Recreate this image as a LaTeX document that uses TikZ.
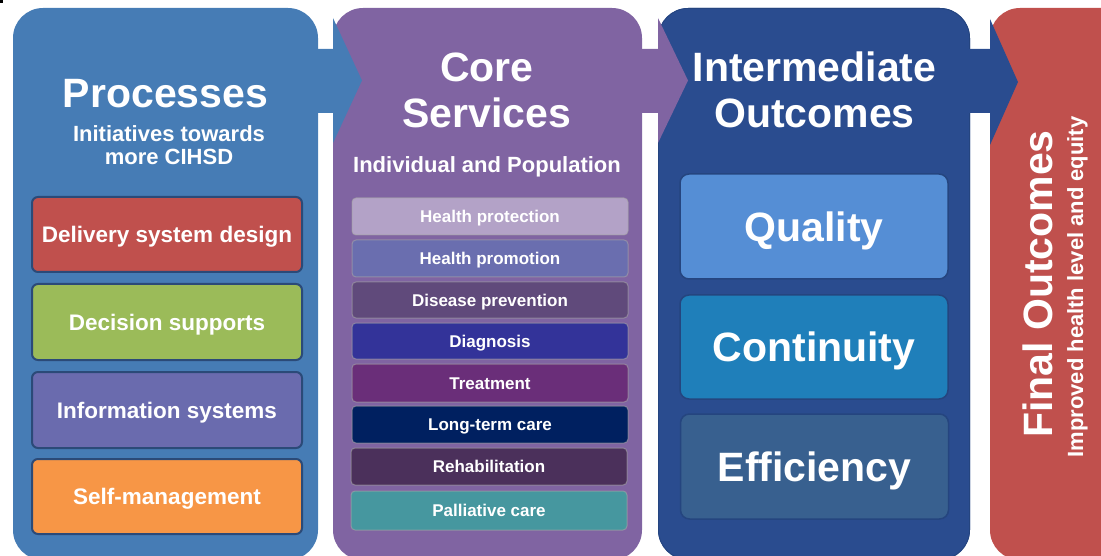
\documentclass[tikz,border=0pt]{standalone}
\usepackage{fontspec}
\setmainfont{Liberation Sans}
\definecolor{colA}{HTML}{467CB5}
\definecolor{colB}{HTML}{8064A2}
\definecolor{colC}{HTML}{2A4C8F}
\definecolor{colD}{HTML}{C0504D}
\definecolor{pbord}{HTML}{2B4A78}
\definecolor{bDel}{HTML}{C0504D}
\definecolor{bDec}{HTML}{9BBB59}
\definecolor{bInf}{HTML}{6A6BAE}
\definecolor{bSel}{HTML}{F79646}
\definecolor{sHP}{HTML}{B3A2C7}
\definecolor{sHPr}{HTML}{6A6EAF}
\definecolor{sDP}{HTML}{604A7B}
\definecolor{sDi}{HTML}{333399}
\definecolor{sTr}{HTML}{6A2E79}
\definecolor{sLT}{HTML}{002060}
\definecolor{sRe}{HTML}{4B305B}
\definecolor{sPa}{HTML}{46979F}
\definecolor{oQ}{HTML}{558ED5}
\definecolor{oC}{HTML}{1F7FBA}
\definecolor{oE}{HTML}{38608F}
\definecolor{oBord}{HTML}{25457F}
\begin{document}
\begin{tikzpicture}[x=1pt,y=-1pt,
  column/.style={rounded corners=30pt},
  title/.style={text=white,font=\fontsize{41}{41}\selectfont\bfseries,anchor=base,inner sep=0pt},
  subtitle/.style={text=white,font=\fontsize{22}{22}\selectfont\bfseries,anchor=base,inner sep=0pt},
  procbox/.style={draw=pbord,line width=2pt,rounded corners=6pt,text=white,
    font=\fontsize{22.5}{22.5}\selectfont\bfseries,minimum width=270pt,
    text height=16.1pt,text depth=0pt,inner sep=0pt},
  servbox/.style={draw=black!35,draw opacity=0.6,line width=1pt,rounded corners=4pt,text=white,
    font=\fontsize{17}{17}\selectfont\bfseries,minimum width=276pt,
    text height=12.2pt,text depth=0pt,inner sep=0pt},
  outbox/.style={draw=oBord,line width=1.5pt,rounded corners=9pt,text=white,
    font=\fontsize{41}{41}\selectfont\bfseries,minimum width=268pt,
    text height=29.4pt,text depth=0pt,inner sep=0pt},
  arrowshape/.style={draw=none}]
\useasboundingbox (0,0) rectangle (1101,556);
\clip (0,0) rectangle (1101,556);
\fill[black] (0,0) rectangle (3,3);
% columns
\fill[colA,column] (13,8) rectangle (318,560);
\fill[colB,column] (333,8) rectangle (642,560);
\fill[colC,column] (658,8) rectangle (970,560);
\draw[oBord,line width=0.8pt,column] (658.4,8.4) rectangle (969.6,559.6);
\fill[colD,column] (990,8) rectangle (1140,560);
% arrows
\fill[colA] (305,49) -- (333,49) -- (333,18) -- (362,80.5) -- (333,143) -- (333,113) -- (305,113) -- cycle;
\fill[colB] (630,49) -- (658,49) -- (658,18) -- (688,80.5) -- (658,143) -- (658,113) -- (630,113) -- cycle;
\fill[colC] (958,49) -- (990,49) -- (990,19) -- (1018,82) -- (990,145) -- (990,113) -- (958,113) -- cycle;
% column 1
\node[title] (t1) at (165.5,108) {Processes};
\node[subtitle] (s1a) at (169,142) {Initiatives towards};
\node[subtitle] (s1b) at (169,165) {more CIHSD};
\node[procbox,fill=bDel,minimum height=75pt] (p1) at (167,234.5) {Delivery system design};
\node[procbox,fill=bDec,minimum height=76pt] (p2) at (167,322) {Decision supports};
\node[procbox,fill=bInf,minimum height=76pt] (p3) at (167,410) {Information systems};
\node[procbox,fill=bSel,minimum height=75pt] (p4) at (167,496.5) {Self-management};
% column 2
\node[title] (t2a) at (487,82) {Core};
\node[title] (t2b) at (487,128) {Services};
\node[subtitle] (s2) at (487,173) {Individual and Population};
\node[servbox,fill=sHP,minimum height=37pt] (c1) at (490,216.5) {Health protection};
\node[servbox,fill=sHPr,minimum height=37pt] (c2) at (490,258.5) {Health promotion};
\node[servbox,fill=sDP,minimum height=36pt] (c3) at (490,300) {Disease prevention};
\node[servbox,fill=sDi,minimum height=36pt] (c4) at (490,341) {Diagnosis};
\node[servbox,fill=sTr,minimum height=38pt] (c5) at (490,383) {Treatment};
\node[servbox,fill=sLT,minimum height=37pt] (c6) at (490,424.5) {Long-term care};
\node[servbox,fill=sRe,minimum height=37pt] (c7) at (489,466.5) {Rehabilitation};
\node[servbox,fill=sPa,minimum height=39pt] (c8) at (489,510.5) {Palliative care};
% column 3
\node[title] (t3a) at (814.5,82) {Intermediate};
\node[title] (t3b) at (814.5,128) {Outcomes};
\node[outbox,fill=oQ,minimum height=105pt] (o1) at (814,226.5) {Quality};
\node[outbox,fill=oC,minimum height=104pt] (o2) at (814,347) {Continuity};
\node[outbox,fill=oE,minimum height=105pt] (o3) at (814.5,466.5) {Efficiency};
% column 4
\node[title,rotate=90] (t4) at (1052,284) {Final Outcomes};
\node[subtitle,rotate=90] (s4) at (1083,287) {Improved health level and equity};
\end{tikzpicture}
\end{document}
